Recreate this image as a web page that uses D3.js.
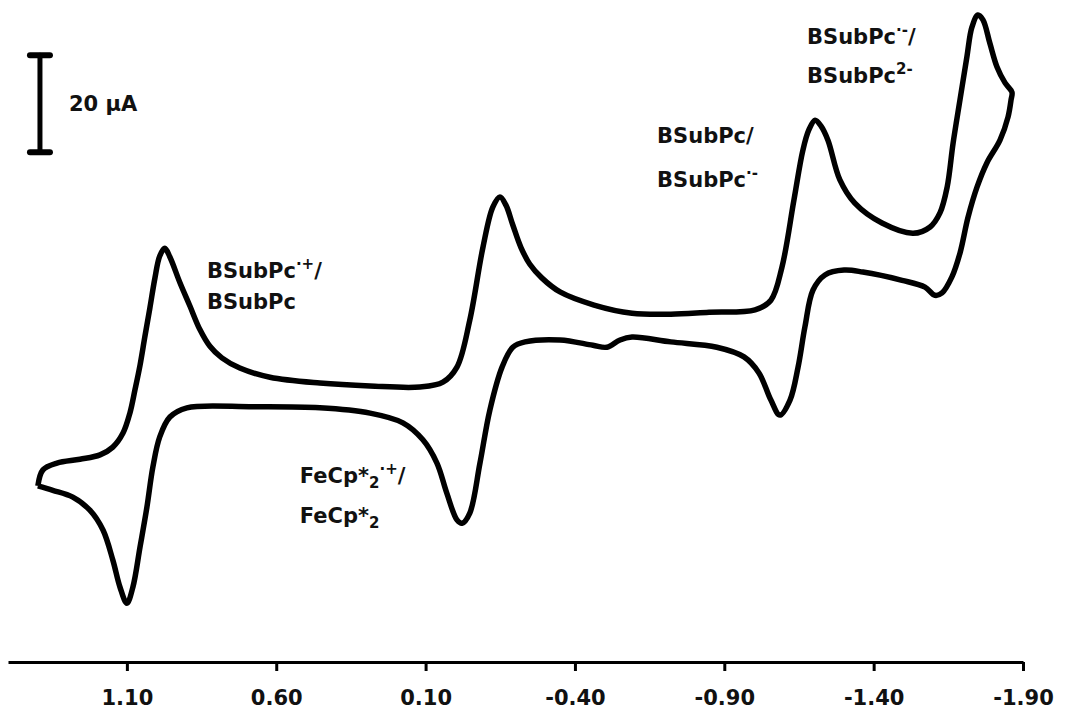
<!DOCTYPE html>
<html>
<head>
<meta charset="utf-8">
<script src="https://cdn.jsdelivr.net/npm/d3@7"></script>
<style>
  body { margin: 0; background: #fff; }
  svg { display: block; }
  .lbl { font-family: 'DejaVu Sans', Verdana, sans-serif; font-weight: bold; font-size: 21px; fill: #111; }
</style>
</head>
<body>
<script>
// forward scan (toward negative potentials), potential in V and current in uA
let potentialsFwd = [1.398, 1.381, 1.334, 1.257, 1.190, 1.147, 1.113, 1.090, 1.073, 1.056, 1.040, 1.023, 1.006, 0.990, 0.973, 0.956, 0.923, 0.889, 0.856, 0.822, 0.782, 0.722, 0.621, 0.454, 0.286, 0.119, 0.042, -0.005, -0.048, -0.092, -0.125, -0.149, -0.169, -0.192, -0.219, -0.249, -0.289, -0.350, -0.464, -0.591, -0.721, -0.849, -1.003, -1.056, -1.093, -1.133, -1.163, -1.183, -1.204, -1.224, -1.247, -1.287, -1.337, -1.428, -1.532, -1.589, -1.622, -1.646, -1.666, -1.689, -1.712, -1.729, -1.749, -1.766, -1.789, -1.813, -1.840, -1.863];
let currentsFwd = [-17.7, -14.4, -13.0, -12.2, -11.3, -9.7, -6.8, -2.7, 2.1, 7.2, 13.0, 19.0, 25.2, 29.7, 31.3, 29.5, 24.3, 19.4, 14.6, 11.1, 8.7, 6.6, 4.7, 3.5, 2.9, 2.7, 3.7, 6.8, 16.5, 31.5, 39.8, 41.9, 40.2, 36.1, 31.5, 28.0, 25.2, 22.3, 19.6, 17.9, 17.7, 18.1, 18.6, 20.6, 27.4, 41.2, 51.5, 55.7, 57.7, 56.5, 53.6, 45.4, 40.6, 36.5, 34.4, 35.7, 38.6, 43.9, 53.0, 61.9, 70.7, 76.9, 79.4, 78.4, 73.6, 68.7, 65.4, 63.5];

// reverse scan (back toward positive potentials)
let potentialsRev = [-1.863, -1.860, -1.850, -1.823, -1.779, -1.746, -1.716, -1.689, -1.662, -1.629, -1.605, -1.572, -1.495, -1.364, -1.301, -1.237, -1.197, -1.170, -1.147, -1.120, -1.086, -1.056, -1.016, -0.966, -0.875, -0.721, -0.591, -0.551, -0.507, -0.460, -0.350, -0.233, -0.192, -0.156, -0.115, -0.082, -0.048, -0.022, -0.005, 0.029, 0.062, 0.109, 0.176, 0.286, 0.454, 0.678, 0.899, 0.956, 0.990, 1.013, 1.033, 1.056, 1.080, 1.100, 1.123, 1.147, 1.180, 1.224, 1.281, 1.348, 1.398];
let currentsRev = [63.5, 61.9, 58.4, 53.6, 48.9, 43.9, 37.7, 30.3, 25.4, 22.1, 21.6, 23.3, 24.7, 26.4, 26.8, 25.8, 22.7, 15.1, 6.8, 0, -3.1, 0, 5.6, 8.9, 10.9, 12.0, 13.0, 12.4, 10.9, 11.3, 12.4, 12.0, 10.9, 6.8, -2.1, -13.0, -23.3, -25.4, -24.7, -19.2, -13.0, -8.2, -4.7, -2.7, -1.6, -1.4, -1.6, -3.5, -7.6, -13.8, -22.1, -30.3, -38.6, -41.9, -38.6, -33.0, -26.8, -22.7, -20.0, -18.6, -17.7];

let tickValues = [1.10, 0.60, 0.10, -0.40, -0.90, -1.40, -1.90];

// annotation lines: text parts, anchor potential, anchor current
let labels = [
  { parts: [['BSubPc',''], ['·+','sup'], ['/','']], E: 0.832, I: 25.2 },
  { parts: [['BSubPc','']], E: 0.832, I: 18.8 },
  { parts: [['FeCp*',''], ['2','sub'], ['·+','sup'], ['/','']], E: 0.521, I: -17.1 },
  { parts: [['FeCp*',''], ['2','sub']], E: 0.521, I: -25.4 },
  { parts: [['BSubPc/','']], E: -0.675, I: 53.0 },
  { parts: [['BSubPc',''], ['·-','sup']], E: -0.675, I: 43.9 },
  { parts: [['BSubPc',''], ['·-','sup'], ['/','']], E: -1.177, I: 73.4 },
  { parts: [['BSubPc',''], ['2-','sup']], E: -1.177, I: 65.4 }
];

let scaleBar = { E: 1.391, top: 71.1, size: 20, label: '20 µA' };

let W = 1082, H = 713;
let svg = d3.select('body').append('svg').attr('width', W).attr('height', H);

let x = d3.scaleLinear().domain([1.498, -1.90]).range([8, 1023]);
let y = d3.scaleLinear().domain([-53.6, 82.5]).range([660, 0]);

let points = potentialsFwd.map((e, i) => [e, currentsFwd[i]])
  .concat(potentialsRev.slice(1).map((e, i) => [e, currentsRev[i + 1]]));

let line = d3.line()
  .x(d => x(d[0]))
  .y(d => y(d[1]))
  .curve(d3.curveCatmullRom.alpha(0.5));

svg.append('path')
  .datum(points)
  .attr('d', line)
  .attr('fill', 'none')
  .attr('stroke', '#000')
  .attr('stroke-width', 5.5)
  .attr('stroke-linejoin', 'round');

// x axis
let axis = svg.append('g')
  .attr('transform', 'translate(0,662)')
  .call(d3.axisBottom(x)
    .tickValues(tickValues)
    .tickFormat(d => d.toFixed(2))
    .tickSize(9)
    .tickSizeOuter(0)
    .tickPadding(19));

axis.select('.domain').attr('stroke', '#000').attr('stroke-width', 3);
axis.selectAll('.tick line').attr('stroke', '#000').attr('stroke-width', 3);
axis.selectAll('.tick text')
  .attr('class', 'lbl')
  .attr('font-family', null)
  .attr('font-size', null)
  .attr('fill', '#111');

// scale bar
let sbx = x(scaleBar.E);
let sbTop = y(scaleBar.top), sbBot = y(scaleBar.top - scaleBar.size);
let sb = svg.append('g').attr('stroke', '#000').attr('stroke-linecap', 'round');
sb.append('line').attr('x1', sbx).attr('x2', sbx).attr('y1', sbTop).attr('y2', sbBot).attr('stroke-width', 5);
sb.append('line').attr('x1', sbx - 10).attr('x2', sbx + 10).attr('y1', sbTop).attr('y2', sbTop).attr('stroke-width', 6);
sb.append('line').attr('x1', sbx - 10).attr('x2', sbx + 10).attr('y1', sbBot).attr('y2', sbBot).attr('stroke-width', 6);

svg.append('text')
  .attr('class', 'lbl')
  .attr('x', sbx + 29)
  .attr('y', (sbTop + sbBot) / 2 + 7)
  .text(scaleBar.label);

// annotations
labels.forEach(l => {
  let t = svg.append('text')
    .attr('class', 'lbl')
    .attr('x', x(l.E))
    .attr('y', y(l.I));
  let shift = 0;
  l.parts.forEach(p => {
    let target = p[1] === 'sup' ? -9 : p[1] === 'sub' ? 5 : 0;
    let ts = t.append('tspan')
      .attr('dy', target - shift)
      .text(p[0]);
    if (p[1]) ts.attr('font-size', '15px');
    shift = target;
  });
});
</script>
</body>
</html>
